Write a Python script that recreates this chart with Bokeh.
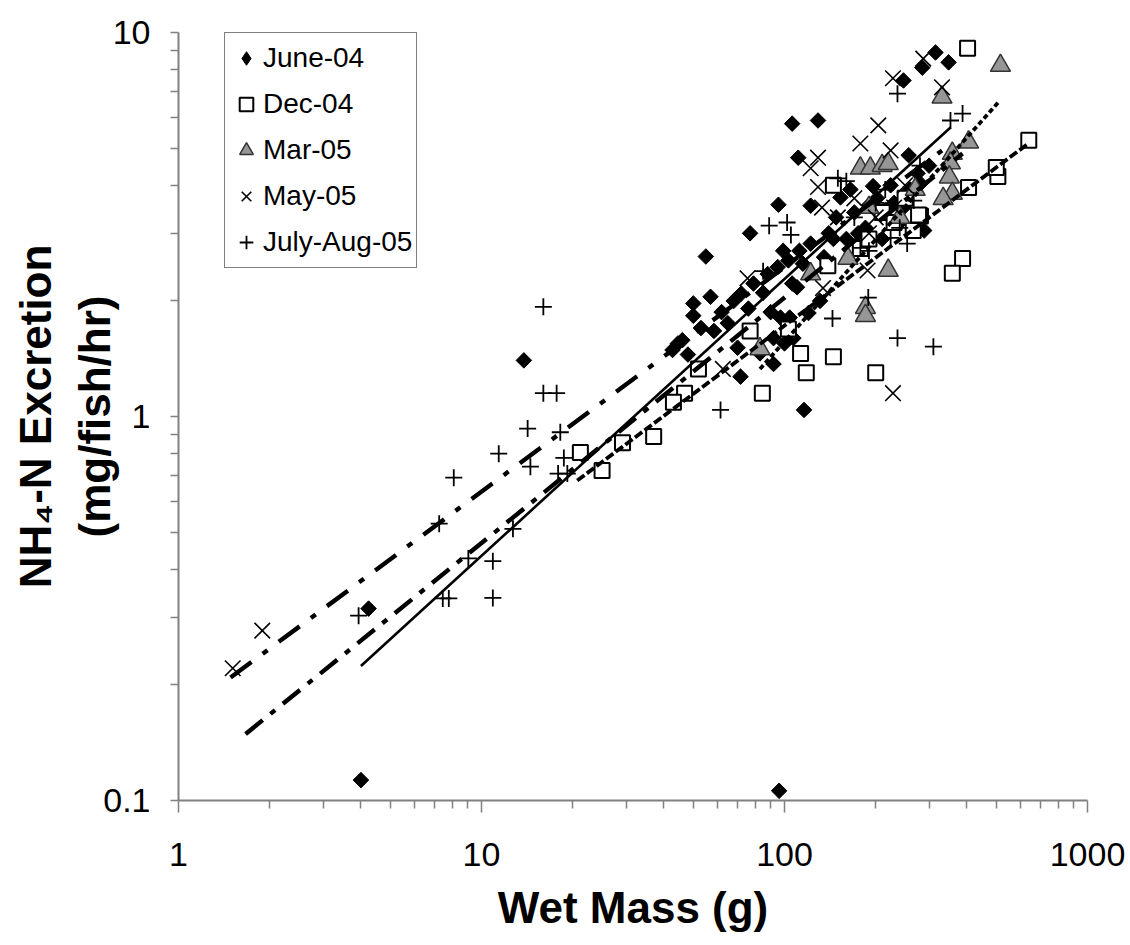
import numpy as np
from bokeh.plotting import figure
from bokeh.models import Range1d, FixedTicker, CustomJSTickFormatter, Legend, LegendItem
from bokeh.embed import file_html
from bokeh.resources import INLINE

series_names = ["June-04", "Dec-04", "Mar-05", "May-05", "July-Aug-05"]

june_x = [4.0, 4.24, 96, 13.8, 55, 57, 50, 50, 46, 42.7, 71.6, 92, 70, 58.5, 62, 116, 83, 100,
          120, 131, 110, 97, 92, 106, 90, 72, 76, 79, 315, 348, 285, 247, 106, 129, 111, 95.5,
          122, 99, 77, 257, 281, 247, 289, 148, 153, 202, 122, 196, 224, 104, 44.5, 107, 170,
          185, 215, 230, 240, 260, 275, 300, 160, 175, 190, 210, 140, 165, 48, 53, 65, 68, 85,
          88, 95, 103, 115, 112, 135, 145]
june_y = [0.113, 0.316, 0.106, 1.40, 2.61, 2.05, 1.97, 1.83, 1.58, 1.49, 1.27, 1.37, 1.51, 1.67,
          1.87, 1.04, 1.46, 1.55, 1.86, 2.0, 2.17, 1.81, 1.6, 2.22, 1.87, 2.09, 1.91, 2.22, 8.87,
          8.36, 8.1, 7.5, 5.79, 5.9, 4.72, 3.56, 3.54, 2.7, 3.0, 4.79, 4.04, 3.5, 3.05, 3.3, 3.72,
          3.7, 2.82, 3.98, 4.0, 1.81, 1.55, 1.6, 3.4, 3.1, 3.45, 3.6, 3.2, 3.9, 4.3, 4.5, 2.9,
          3.0, 3.55, 2.9, 3.0, 3.9, 1.45, 1.7, 1.75, 2.0, 2.1, 2.35, 2.45, 2.55, 2.5, 2.7, 2.6, 2.9]

dec_x = [77, 52, 46.8, 43, 84.5, 37, 29.2, 21.2, 25, 103, 113, 118, 145, 139, 640, 506, 500, 405,
         281, 266, 387, 358, 178, 277, 200, 402, 145, 210, 230, 190, 250]
dec_y = [1.67, 1.33, 1.15, 1.09, 1.15, 0.887, 0.855, 0.806, 0.723, 1.69, 1.46, 1.30, 1.43, 2.47,
         5.24, 4.22, 4.45, 3.95, 3.33, 3.05, 2.58, 2.36, 2.74, 3.35, 1.30, 9.1, 4.0, 3.4, 3.2,
         2.9, 3.7]

mar_x = [516, 331, 405, 358, 353, 350, 358, 334, 178, 192, 210, 220, 162, 220, 185, 185, 122, 83,
         190, 240, 270]
mar_y = [8.2, 6.78, 5.18, 4.84, 4.57, 4.2, 3.81, 3.69, 4.43, 4.43, 4.5, 4.55, 2.58, 2.4, 1.92,
         1.83, 2.35, 1.50, 3.5, 3.3, 3.9]

may_x = [1.51, 1.89, 62.6, 75.5, 134, 287, 228, 331, 204, 178, 129, 122, 224, 129, 133, 188, 228,
         150, 170, 200, 230, 250, 190]
may_y = [0.221, 0.277, 1.33, 2.29, 2.16, 8.55, 7.6, 7.2, 5.73, 5.14, 4.72, 4.43, 4.93, 3.96, 3.5,
         2.4, 1.15, 3.3, 3.7, 3.3, 3.5, 4.0, 3.0]

july_x = [3.93, 7.45, 7.8, 7.25, 8.1, 9.05, 10.9, 10.9, 11.4, 12.7, 16, 16, 17.7, 14.2, 14.5, 18.2,
          18.7, 17.9, 19.2, 61.5, 85, 144, 89, 102, 105, 236, 353, 387, 224, 254, 236, 310, 189,
          150, 267, 160, 170, 200, 190, 240, 215, 280, 178]
july_y = [0.303, 0.336, 0.336, 0.526, 0.693, 0.427, 0.42, 0.337, 0.80, 0.51, 1.93, 1.15, 1.15,
          0.93, 0.74, 0.91, 0.78, 0.71, 0.71, 1.04, 2.39, 1.80, 3.14, 3.2, 2.97, 6.93, 5.9, 6.15,
          2.92, 2.82, 1.6, 1.52, 2.04, 4.17, 3.65, 4.1, 3.3, 3.6, 2.7, 3.1, 3.9, 4.5, 2.75]

# trend line end points (June, Dec, Mar, May, July-Aug)
trend_x0 = [4.0, 20.7, 83, 1.485, 1.665]
trend_y0 = [0.224, 0.681, 1.33, 0.209, 0.149]
trend_x1 = [353, 638, 508, 331, 387]
trend_y1 = [5.66, 5.14, 6.58, 4.93, 4.84]

x_ticks = [1, 10, 100, 1000]
y_ticks = [0.1, 1, 10]

FONT = "Liberation Sans"

p = figure(width=1130, height=945, x_axis_type="log", y_axis_type="log",
           x_range=Range1d(1, 1000), y_range=Range1d(0.1, 10),
           output_backend="svg", toolbar_location=None,
           min_border_left=178, min_border_right=43, min_border_top=32, min_border_bottom=145)
p.background_fill_color = "white"
p.border_fill_color = "white"
p.outline_line_color = None
p.xgrid.visible = False
p.ygrid.visible = False

# diamond glyph (hidden beneath the June markers) that supplies the legend symbol
r_june_leg = p.scatter(june_x, june_y, marker="diamond", size=12, fill_color="black",
                       line_color="black", line_width=1)
r_june = p.scatter(june_x, june_y, marker="square", angle=np.pi / 4, size=11,
                   fill_color="black", line_color="black", line_width=1)
r_dec = p.scatter(dec_x, dec_y, marker="square", size=15, fill_color="white",
                  line_color="black", line_width=2)
r_mar = p.scatter(mar_x, mar_y, marker="triangle", size=20, fill_color="#969696",
                  line_color="#333333", line_width=1.5)
r_may = p.scatter(may_x, may_y, marker="x", size=22, line_color="black", line_width=1.6)
r_july = p.scatter(july_x, july_y, marker="cross", size=17, line_color="black", line_width=1.8)

dashes = ["solid", "9 3", "5 3", "26 14 6 14", "22 10 6 10"]
widths = [2.6, 3.8, 3.8, 4.4, 4.4]
for i in range(5):
    p.line([trend_x0[i], trend_x1[i]], [trend_y0[i], trend_y1[i]], line_color="black",
           line_width=widths[i], line_dash=dashes[i])

minor_x = [m * d for d in (1, 10, 100) for m in range(2, 10)]
minor_y = [m * d for d in (0.1, 1) for m in range(2, 10)]
p.xaxis.ticker = FixedTicker(ticks=x_ticks, minor_ticks=minor_x)
p.yaxis.ticker = FixedTicker(ticks=y_ticks, minor_ticks=minor_y)
fmt = CustomJSTickFormatter(code="return tick.toString();")
p.xaxis.formatter = fmt
p.yaxis.formatter = fmt

for ax in (p.xaxis[0], p.yaxis[0]):
    ax.axis_line_color = "#808080"
    ax.axis_line_width = 2
    ax.major_tick_line_color = "#808080"
    ax.minor_tick_line_color = "#808080"
    ax.major_tick_line_width = 1.5
    ax.minor_tick_line_width = 1.5
    ax.major_tick_in = 0
    ax.minor_tick_in = 0
    ax.major_label_text_font = FONT
    ax.major_label_text_font_size = "34px"
    ax.major_label_text_color = "black"
    ax.axis_label_text_font = FONT
    ax.axis_label_text_font_size = "44px"
    ax.axis_label_text_font_style = "bold"
    ax.axis_label_text_color = "black"

p.xaxis.major_tick_out = 12
p.xaxis.minor_tick_out = 8
p.xaxis.major_label_standoff = 30
p.xaxis.axis_label = "Wet Mass (g)"
p.xaxis.axis_label_standoff = 14

p.yaxis.major_tick_out = 8
p.yaxis.minor_tick_out = 8
p.yaxis.major_label_standoff = 20
p.yaxis.axis_label = "NH\u2084-N Excretion\n(mg/fish/hr)"
p.yaxis.axis_label_standoff = -19

legend = Legend(items=[LegendItem(label=n, renderers=[r]) for n, r in
                       zip(series_names, [r_june_leg, r_dec, r_mar, r_may, r_july])],
                location=(46, 532))
legend.label_text_font = FONT
legend.label_text_font_size = "28px"
legend.label_text_color = "black"
legend.glyph_width = 34
legend.glyph_height = 42
legend.label_height = 42
legend.spacing = 4
legend.padding = 4
legend.label_standoff = 0
legend.margin = 0
legend.border_line_color = "black"
legend.border_line_width = 1
legend.background_fill_color = "white"
legend.background_fill_alpha = 1
p.add_layout(legend, "center")

open("out.html", "w").write(file_html(p, INLINE))
